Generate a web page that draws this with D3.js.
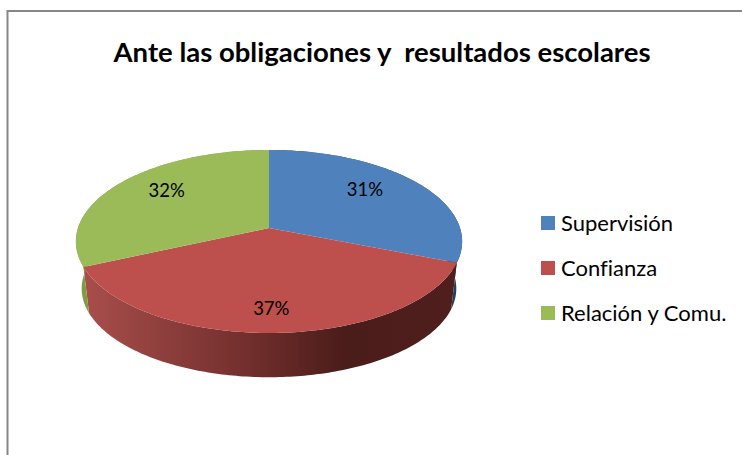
<!DOCTYPE html>
<html lang="es">
  <head>
    <meta charset="utf-8" />
    <title>Ante las obligaciones y resultados escolares</title>
    <script src="https://d3js.org/d3.v7.min.js"></script>
    <style>
      html, body { margin: 0; padding: 0; background: #fff; overflow: hidden; }
      svg { display: block; }
      text { font-family: "Lato", "Open Sans", sans-serif; fill: #000; white-space: pre; font-variant-ligatures: none; }
    </style>
  </head>
  <body>
    <div id="chart"></div>
    <script>
      // chart data
      var title = "Ante las obligaciones y  resultados escolares";
      var categories = ["Supervisión", "Confianza", "Relación y Comu."];
      var values = [31, 37.3, 31.7];
      var topColors = ["#4f81bd", "#bd4f4c", "#9bbb59"];
      var sideColors = ["#24405f", "url(#redWall)", "#7f9c45"];

      var width = 742, height = 455;

      var svg = d3.select("#chart").append("svg")
        .attr("width", width)
        .attr("height", height);

      // frame, runs off the right and bottom of the picture
      svg.append("path")
        .attr("d", "M7.5," + height + "V11H" + width)
        .attr("fill", "none")
        .attr("stroke", "#868686")
        .attr("stroke-width", 2);

      svg.append("text")
        .attr("x", 382)
        .attr("y", 62)
        .attr("text-anchor", "middle")
        .attr("font-weight", 700)
        .style("font-size", "27.5px")
        .text(title);

      // side wall shading of the red slice
      var grad = svg.append("defs").append("linearGradient")
        .attr("id", "redWall")
        .attr("gradientUnits", "userSpaceOnUse")
        .attr("x1", 84).attr("x2", 458)
        .attr("y1", 0).attr("y2", 0);
      grad.append("stop").attr("offset", "0%").attr("stop-color", "#a84e4b");
      grad.append("stop").attr("offset", "45%").attr("stop-color", "#702e2c");
      grad.append("stop").attr("offset", "70%").attr("stop-color", "#4a1c1a");
      grad.append("stop").attr("offset", "100%").attr("stop-color", "#501f1d");

      var slices = d3.pie().sort(null)(values);
      var total = d3.sum(values);

      // the tilted disc is a circle seen in perspective, so its centre
      // sits above the middle of the ellipse
      var cx = 269, cy = 228, ax = 191, ay = 89.5, k = 0.1475;
      var depth = 47, bottomScale = 0.97;

      function project(angle, r) {
        var u = Math.sin(angle) * r, v = -Math.cos(angle) * r;
        var d = 1 - k * v;
        return [cx + ax * u / d, cy + ay * v / d];
      }
      function projectBottom(angle) {
        var p = project(angle, 1);
        return [cx + (p[0] - cx) * bottomScale,
                241.5 + (p[1] - 241.5) * bottomScale + depth];
      }
      function rim(s) {
        var n = Math.ceil((s.endAngle - s.startAngle) * 60);
        return d3.range(n + 1).map(function (i) {
          return s.startAngle + (s.endAngle - s.startAngle) * i / n;
        });
      }

      var line = d3.line();

      // walls first, the top faces paint over whatever is behind
      svg.selectAll("path.wall")
        .data(slices)
        .enter()
        .append("path")
        .attr("class", "wall")
        .attr("fill", function (d, i) { return sideColors[i]; })
        .attr("d", function (d) {
          var a = rim(d);
          var pts = a.map(function (t) { return project(t, 1); })
            .concat(a.slice().reverse().map(projectBottom));
          return line(pts) + "Z";
        });

      svg.selectAll("path.top")
        .data(slices)
        .enter()
        .append("path")
        .attr("class", "top")
        .attr("fill", function (d, i) { return topColors[i]; })
        .attr("d", function (d) {
          var pts = [[cx, cy]].concat(rim(d).map(function (t) { return project(t, 1); }));
          return line(pts) + "Z";
        });

      // percent labels, nudged off the radial line like the original
      var nudge = [[-8.5, -4.7], [-1, 11], [4, -5]];
      svg.selectAll("text.pct")
        .data(slices)
        .enter()
        .append("text")
        .attr("class", "pct")
        .attr("text-anchor", "middle")
        .attr("dy", "0.35em")
        .style("font-size", "18.5px")
        .attr("x", function (d, i) {
          return project((d.startAngle + d.endAngle) / 2, 0.7)[0] + nudge[i][0];
        })
        .attr("y", function (d, i) {
          return project((d.startAngle + d.endAngle) / 2, 0.7)[1] + nudge[i][1];
        })
        .text(function (d) { return Math.round(d.value / total * 100) + "%"; });

      // legend
      var legendY = d3.scalePoint().domain(categories).range([223, 313]);
      var legend = svg.selectAll("g.legend")
        .data(categories)
        .enter()
        .append("g")
        .attr("class", "legend")
        .attr("transform", function (d) { return "translate(541," + legendY(d) + ")"; });
      legend.append("rect")
        .attr("x", 0)
        .attr("y", -7)
        .attr("width", 14)
        .attr("height", 14)
        .attr("fill", function (d, i) { return topColors[i]; });
      legend.append("text")
        .attr("x", 20)
        .attr("dy", "0.35em")
        .style("font-size", "22px")
        .text(function (d) { return d; });
    </script>
  </body>
</html>
